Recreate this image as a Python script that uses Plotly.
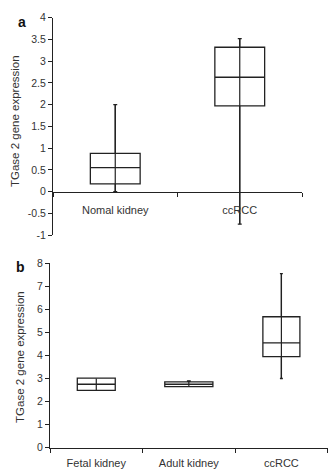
import plotly.graph_objects as go

# ---- data ----
a_categories = ["Nomal kidney", "ccRCC"]
a_min = [0.0, -0.75]
a_q1 = [0.18, 1.97]
a_median = [0.55, 2.63]
a_q3 = [0.88, 3.32]
a_max = [2.0, 3.52]
a_ticks = [-1, -0.5, 0, 0.5, 1, 1.5, 2, 2.5, 3, 3.5, 4]

b_categories = ["Fetal kidney", "Adult kidney", "ccRCC"]
b_min = [2.5, 2.65, 3.0]
b_q1 = [2.48, 2.65, 3.95]
b_median = [2.75, 2.75, 4.55]
b_q3 = [3.02, 2.85, 5.68]
b_max = [3.0, 2.9, 7.55]
b_ticks = [0, 1, 2, 3, 4, 5, 6, 7, 8]

y_title = "TGase 2 gene expression"

# ---- style ----
a_widths = [0.4, 0.4]
b_widths = [0.41, 0.52, 0.4]
W, H = 328, 476
FONT = "Liberation Sans, Arial, sans-serif"
TXT = "#333333"
LINE = "#222222"

fig = go.Figure()

def add_panel(cats, mn, q1, med, q3, mx, widths, xa, ya):
    for i, c in enumerate(cats):
        fig.add_trace(go.Scatter(
            x=[c, c], y=[mn[i], mx[i]], mode="lines",
            line=dict(color=LINE, width=1.2), xaxis=xa, yaxis=ya,
            showlegend=False, hoverinfo="skip"))
        fig.add_trace(go.Box(
            x=[c], q1=[q1[i]], median=[med[i]], q3=[q3[i]],
            lowerfence=[mn[i]], upperfence=[mx[i]],
            width=widths[i], whiskerwidth=0.08,
            fillcolor="rgba(0,0,0,0)", line=dict(color=LINE, width=1.3),
            xaxis=xa, yaxis=ya, showlegend=False, boxpoints=False))

add_panel(a_categories, a_min, a_q1, a_median, a_q3, a_max, a_widths, "x", "y")
add_panel(b_categories, b_min, b_q1, b_median, b_q3, b_max, b_widths, "x2", "y2")

# domains from pixel layout
def px_x(p):
    return p / W

def px_y(p):
    return 1 - p / H

a_xdom = [px_x(53), px_x(302)]
a_ydom = [px_y(235), px_y(12)]
b_xdom = [px_x(50), 0.999]
b_ydom = [px_y(453), px_y(264)]

a_range = [-1, 4]
zero_pos = a_ydom[0] + (0 - a_range[0]) / (a_range[1] - a_range[0]) * (a_ydom[1] - a_ydom[0])

tickfont = dict(family=FONT, size=10.5, color=TXT)
titlefont = dict(family=FONT, size=11.5, color=TXT)

common_y = dict(showgrid=False, zeroline=False, showline=True, linecolor=LINE,
                linewidth=1, ticks="outside", ticklen=4, tickcolor=LINE,
                tickfont=tickfont)
common_x = dict(showgrid=False, zeroline=False, showline=True, linecolor=LINE,
                linewidth=1, ticks="outside", ticklen=4, tickcolor=LINE,
                tickson="boundaries", tickfont=dict(family=FONT, size=11, color=TXT),
                type="category")

fig.update_layout(
    width=W, height=H, margin=dict(l=0, r=0, t=0, b=0),
    paper_bgcolor="white", plot_bgcolor="white",
    xaxis=dict(domain=a_xdom, anchor="free", position=zero_pos,
               categoryorder="array", categoryarray=a_categories,
               range=[-0.5, 1.5], ticklabelstandoff=8, **common_x),
    yaxis=dict(domain=a_ydom, anchor="x", range=a_range,
               tickvals=a_ticks, ticktext=[f"{t:g}" for t in a_ticks],
               **common_y),
    xaxis2=dict(domain=b_xdom, anchor="y2",
                categoryorder="array", categoryarray=b_categories,
                range=[-0.5, 2.5], ticklabelstandoff=5, **common_x),
    yaxis2=dict(domain=b_ydom, anchor="x2", range=[0, 8],
                tickvals=b_ticks, **common_y),
    annotations=[
        dict(text="<b>a</b>", x=px_x(22), y=px_y(16), xref="paper", yref="paper",
             xanchor="center", yanchor="middle",
             showarrow=False, font=dict(family=FONT, size=14, color="#111")),
        dict(text="<b>b</b>", x=px_x(20), y=px_y(268), xref="paper", yref="paper",
             xanchor="center", yanchor="middle",
             showarrow=False, font=dict(family=FONT, size=14, color="#111")),
        dict(text=y_title, x=px_x(15), y=px_y(118), xref="paper", yref="paper",
             xanchor="center", yanchor="middle", textangle=-90,
             showarrow=False, font=titlefont),
        dict(text=y_title, x=px_x(20), y=px_y(360), xref="paper", yref="paper",
             xanchor="center", yanchor="middle", textangle=-90,
             showarrow=False, font=titlefont),
    ],
)

fig.write_html("out.html", config={"displayModeBar": False},
               post_script="document.body.style.margin='0';document.body.style.overflow='hidden';")
